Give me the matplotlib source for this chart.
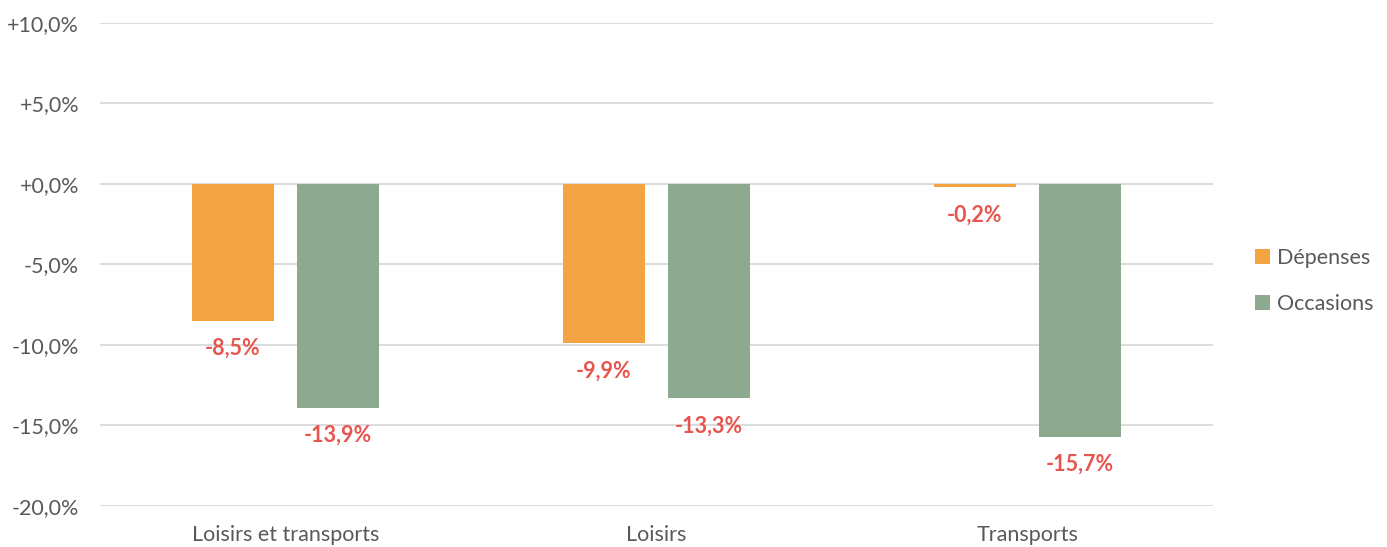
import matplotlib.pyplot as plt
import numpy as np

plt.rcParams['font.family'] = ['Lato', 'DejaVu Sans']

# Data
categories = ["Loisirs et transports", "Loisirs", "Transports"]
depenses = [-8.5, -9.9, -0.2]
occasions = [-13.9, -13.3, -15.7]
series_names = ["Dépenses", "Occasions"]

orange = "#F4A343"
green = "#8DAA91"
label_red = "#E8554E"
gray_text = "#595959"

fig = plt.figure(figsize=(13.87, 5.47), dpi=100)
ax = fig.add_axes([0.0721, 0.075, 0.8024, 0.883])

x = np.arange(len(categories))
w = 0.22
off = 0.142
b1 = ax.bar(x - off, depenses, w, color=orange, label=series_names[0], zorder=3)
b2 = ax.bar(x + off, occasions, w, color=green, label=series_names[1], zorder=3)

# value labels under each bar
for bars, vals in [(b1, depenses), (b2, occasions)]:
    for rect, v in zip(bars, vals):
        ax.annotate(f"{v:.1f}%".replace(".", ","),
                    (rect.get_x() + rect.get_width() / 2, v),
                    xytext=(0, -20), textcoords="offset points",
                    ha="center", va="center", fontsize=15.5,
                    fontweight="bold", color=label_red, zorder=4)

ax.set_xlim(-0.5, 2.5)
ax.set_ylim(-20, 10)
yt = np.arange(-20, 11, 5)
ax.set_yticks(yt)
ax.set_yticklabels([("+" if t >= 0 else "") + f"{t:.1f}%".replace(".", ",") for t in yt])
ax.set_xticks(x)
ax.set_xticklabels(categories)

ax.grid(axis="y", color="#D9D9D9", linewidth=1.3, zorder=0)
for s in ax.spines.values():
    s.set_visible(False)
ax.tick_params(axis="both", length=0, labelsize=15.5, labelcolor=gray_text)
ax.tick_params(axis="y", pad=15)
ax.tick_params(axis="x", pad=14)

ax.legend(loc="center left", bbox_to_anchor=(0.891, 0.486), bbox_transform=fig.transFigure,
          frameon=False, fontsize=15.5, labelcolor=gray_text,
          handlelength=0.7, handleheight=0.7, handletextpad=0.3, labelspacing=1.2)

plt.savefig("out.png", dpi=100)
